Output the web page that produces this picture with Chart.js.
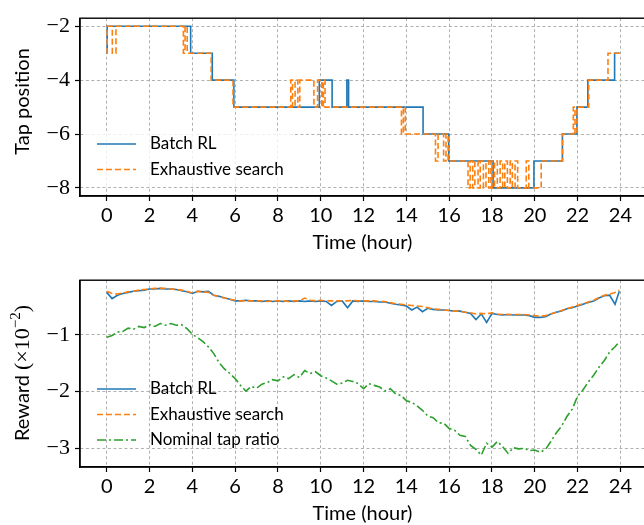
<!DOCTYPE html>
<html>
<head>
<meta charset="utf-8">
<script src="https://cdn.jsdelivr.net/npm/chart.js@4.4.0/dist/chart.umd.min.js"></script>
<style>
  html, body { margin: 0; padding: 0; background: #fff; overflow: hidden; }
  #wrap { position: relative; width: 644px; height: 525px; overflow: hidden; }
  .panel { position: absolute; left: 0; width: 660px; }
  #top-panel { top: 0; height: 262px; }
  #bottom-panel { top: 262px; height: 270px; }
</style>
</head>
<body>
<div id="wrap">
  <div class="panel" id="top-panel"><canvas id="tap-chart"></canvas></div>
  <div class="panel" id="bottom-panel"><canvas id="reward-chart"></canvas></div>
</div>
<script>
// tick labels
const HOUR_TICKS = [0, 2, 4, 6, 8, 10, 12, 14, 16, 18, 20, 22, 24];
const TAP_TICKS = [-8, -6, -4, -2];
const REWARD_TICKS = [-3, -2, -1];

// tap position, (hour at which the tap changes, new tap)
const RL_TAP_TIME = [0, 0.02, 3.92, 4.93, 5.94, 9.93, 10.53, 11.22, 11.3, 14.78, 15.98, 18.05,
    19.96, 21.29, 21.97, 22.48, 23.73, 23.96];
const RL_TAP = [-3, -2, -3, -4, -5, -4, -5, -4, -5, -6, -7, -8,
    -7, -6, -5, -4, -3, -3];

const ES_TAP_TIME = [0, 0.02, 0.26, 0.43, 3.58, 3.66, 3.76, 4.88, 5.9,
    8.6, 8.68, 8.8, 8.93, 9.02, 9.68, 9.85, 10.05, 10.12, 10.2,
    13.77, 13.86, 13.95, 15.36, 15.48, 15.74, 15.85, 15.95,
    16.88, 16.98, 17.1, 17.2, 17.35, 17.45, 17.6, 17.72, 17.85, 17.95,
    18.0, 18.12, 18.25, 18.38, 18.5, 18.6, 18.72, 18.85, 18.95, 19.08, 19.2,
    19.6, 19.72, 20.3, 21.3, 21.8, 21.88, 21.97, 22.52, 23.42, 23.96];
const ES_TAP = [-3, -2, -3, -2, -3, -2, -3, -4, -5,
    -4, -5, -4, -5, -4, -5, -4, -5, -4, -5,
    -6, -5, -6, -7, -6, -7, -6, -7,
    -8, -7, -8, -7, -8, -7, -8, -7, -8, -7,
    -8, -7, -8, -7, -8, -7, -8, -7, -8, -7, -8,
    -7, -8, -7, -6, -5, -6, -5, -4, -3, -3];

// reward (x 1e-2)
const REWARD_TIME = [0, 0.25, 0.5, 0.75, 1, 1.25, 1.5, 1.75, 2, 2.25, 2.5, 2.75,
    3, 3.25, 3.5, 3.75, 4, 4.25, 4.5, 4.75, 5, 5.25, 5.5, 5.75,
    6, 6.25, 6.5, 6.75, 7, 7.25, 7.5, 7.75, 8, 8.25, 8.5, 8.75,
    9, 9.25, 9.5, 9.75, 10, 10.25, 10.5, 10.75, 11, 11.25, 11.5, 11.75,
    12, 12.25, 12.5, 12.75, 13, 13.25, 13.5, 13.75, 14, 14.25, 14.5, 14.75,
    15, 15.25, 15.5, 15.75, 16, 16.25, 16.5, 16.75, 17, 17.25, 17.5, 17.75,
    18, 18.25, 18.5, 18.75, 19, 19.25, 19.5, 19.75, 20, 20.25, 20.5, 20.75,
    21, 21.25, 21.5, 21.75, 22, 22.25, 22.5, 22.75, 23, 23.25, 23.5, 23.75, 23.95];
const RL_REWARD = [-0.25, -0.36, -0.30, -0.27, -0.25, -0.23, -0.22, -0.21, -0.19, -0.19, -0.18, -0.19,
    -0.19, -0.20, -0.22, -0.24, -0.27, -0.23, -0.24, -0.23, -0.30, -0.32, -0.35, -0.37,
    -0.40, -0.40, -0.39, -0.40, -0.40, -0.41, -0.40, -0.41, -0.40, -0.41, -0.40, -0.41,
    -0.40, -0.41, -0.40, -0.41, -0.40, -0.41, -0.48, -0.41, -0.40, -0.52, -0.40, -0.41,
    -0.40, -0.41, -0.41, -0.42, -0.42, -0.44, -0.46, -0.47, -0.49, -0.56, -0.51, -0.59,
    -0.53, -0.55, -0.56, -0.56, -0.57, -0.58, -0.58, -0.60, -0.62, -0.73, -0.63, -0.78,
    -0.62, -0.64, -0.65, -0.64, -0.65, -0.65, -0.65, -0.66, -0.69, -0.69, -0.68, -0.63,
    -0.60, -0.58, -0.54, -0.52, -0.49, -0.46, -0.43, -0.40, -0.35, -0.31, -0.30, -0.46, -0.23];
const ES_REWARD = [-0.23, -0.27, -0.28, -0.26, -0.24, -0.23, -0.21, -0.20, -0.19, -0.18, -0.18, -0.18,
    -0.19, -0.20, -0.21, -0.23, -0.26, -0.23, -0.24, -0.25, -0.30, -0.32, -0.35, -0.37,
    -0.39, -0.40, -0.40, -0.40, -0.40, -0.40, -0.41, -0.40, -0.40, -0.40, -0.41, -0.40,
    -0.40, -0.35, -0.39, -0.40, -0.39, -0.40, -0.40, -0.40, -0.40, -0.40, -0.39, -0.40,
    -0.40, -0.40, -0.40, -0.41, -0.41, -0.43, -0.45, -0.46, -0.47, -0.48, -0.49, -0.50,
    -0.52, -0.54, -0.55, -0.56, -0.57, -0.58, -0.58, -0.60, -0.61, -0.63, -0.62, -0.63,
    -0.61, -0.63, -0.64, -0.64, -0.64, -0.64, -0.64, -0.65, -0.66, -0.67, -0.66, -0.63,
    -0.60, -0.57, -0.54, -0.51, -0.48, -0.45, -0.42, -0.39, -0.34, -0.30, -0.28, -0.25, -0.21];
const NOMINAL_REWARD = [-1.04, -1.01, -0.95, -0.94, -0.88, -0.90, -0.85, -0.87, -0.82, -0.85, -0.80, -0.83,
    -0.80, -0.83, -0.82, -0.89, -0.99, -1.05, -1.12, -1.21, -1.33, -1.49, -1.60, -1.68,
    -1.77, -1.89, -1.99, -1.91, -1.94, -1.87, -1.84, -1.79, -1.81, -1.74, -1.77, -1.70,
    -1.75, -1.63, -1.68, -1.65, -1.72, -1.76, -1.81, -1.87, -1.85, -1.80, -1.82, -1.86,
    -1.95, -1.86, -1.89, -1.92, -1.99, -1.95, -2.04, -2.07, -2.16, -2.19, -2.25, -2.33,
    -2.43, -2.46, -2.55, -2.56, -2.65, -2.68, -2.77, -2.79, -2.95, -3.02, -3.12, -2.91,
    -2.98, -2.88, -2.97, -3.09, -2.99, -3.01, -3.00, -3.04, -3.03, -3.07, -3.02, -2.88,
    -2.73, -2.61, -2.44, -2.31, -2.08, -1.97, -1.83, -1.71, -1.57, -1.45, -1.30, -1.21, -1.12];

const COLORS = { rl: '#1f77b4', es: '#ff7f0e', nominal: '#2ca02c' };
const FONT_SANS = "Lato, 'Open Sans', sans-serif";
const FONT_SERIF = "'Liberation Serif', 'DejaVu Serif', serif";
const GRID_COLOR = '#b0b0b0';

function pairs(xs, ys) {
    return xs.map((x, i) => ({ x: x, y: ys[i] }));
}

function minusLabel(v) {
    return v < 0 ? '\u2212' + Math.abs(v) : String(v);
}

function gridOpts() {
    return {
        color: GRID_COLOR,
        lineWidth: 1,
        tickColor: '#000',
        tickLength: 5,
        tickWidth: 1.2,
        tickBorderDash: []
    };
}

function hourAxis(height, titlePad) {
    return {
        type: 'linear',
        min: -1.25,
        max: 25.15,
        afterFit: s => { s.height = height; },
        afterBuildTicks: s => { s.ticks = HOUR_TICKS.map(v => ({ value: v })); },
        grid: gridOpts(),
        border: { display: true, color: '#000', width: 1.4, dash: [3, 2.5] },
        ticks: {
            color: '#000',
            autoSkip: false,
            maxRotation: 0,
            padding: 3,
            font: { family: FONT_SANS, size: 20 },
            callback: v => String(v)
        },
        title: {
            display: true,
            text: 'Time (hour)',
            color: '#000',
            font: { family: FONT_SANS, size: 20 },
            padding: { top: 0, bottom: titlePad }
        }
    };
}

function valueAxis(min, max, ticks) {
    return {
        min: min,
        max: max,
        afterFit: s => { s.width = 80; },
        afterBuildTicks: s => { s.ticks = ticks.map(v => ({ value: v })); },
        grid: gridOpts(),
        border: { display: true, color: '#000', width: 1.4, dash: [3, 2.5] },
        ticks: {
            color: '#000',
            padding: 5,
            font: { family: FONT_SERIF, size: 22 },
            callback: v => minusLabel(v)
        }
    };
}

// top/right spines, legend and the rotated y title
const framePlugin = {
    id: 'frameLegend',
    afterDatasetsDraw(chart, args, opts) {
        const ctx = chart.ctx;
        const a = chart.chartArea;
        ctx.save();
        ctx.strokeStyle = '#000';
        ctx.lineWidth = 1.4;
        ctx.strokeRect(a.left, a.top, a.right - a.left, a.bottom - a.top);

        const L = opts.legend;
        if (L.fill) {
            ctx.fillStyle = L.fill;
            ctx.fillRect(L.x, L.y, L.w, L.h);
        }
        chart.data.datasets.forEach((ds, i) => {
            const y = L.firstRow + i * L.rowGap;
            ctx.strokeStyle = ds.borderColor;
            ctx.lineWidth = ds.borderWidth;
            ctx.setLineDash(ds.borderDash || []);
            ctx.beginPath();
            ctx.moveTo(97, y);
            ctx.lineTo(136, y);
            ctx.stroke();
            ctx.setLineDash([]);
            ctx.fillStyle = '#000';
            ctx.font = '17px ' + FONT_SANS;
            ctx.textBaseline = 'middle';
            ctx.textAlign = 'left';
            ctx.fillText(ds.label, 150, y);
        });

        // y title pieces, drawn rotated
        const t = opts.yTitle;
        ctx.translate(t.x, t.y);
        ctx.rotate(-Math.PI / 2);
        ctx.textBaseline = 'alphabetic';
        let total = 0;
        t.parts.forEach(p => { ctx.font = p.font; total += ctx.measureText(p.text).width; });
        let x = -total / 2;
        t.parts.forEach(p => {
            ctx.font = p.font;
            ctx.fillText(p.text, x, -(p.rise || 0));
            x += ctx.measureText(p.text).width;
        });
        ctx.restore();
    }
};

const tapChart = new Chart(document.getElementById('tap-chart'), {
    type: 'line',
    data: {
        datasets: [
            {
                label: 'Batch RL',
                data: pairs(RL_TAP_TIME, RL_TAP),
                borderColor: COLORS.rl,
                borderWidth: 1.6,
                stepped: true,
                order: 1
            },
            {
                label: 'Exhaustive search',
                data: pairs(ES_TAP_TIME, ES_TAP),
                borderColor: COLORS.es,
                borderWidth: 1.6,
                borderDash: [6, 3],
                stepped: true,
                order: 0
            }
        ]
    },
    options: {
        responsive: true,
        maintainAspectRatio: false,
        animation: false,
        parsing: false,
        layout: { padding: { top: 7, right: 15, bottom: 0, left: 0 } },
        elements: { point: { radius: 0 }, line: { tension: 0 } },
        plugins: {
            legend: { display: false },
            tooltip: { enabled: false },
            frameLegend: {
                legend: { x: 86, y: 131, w: 206, h: 55, firstRow: 144, rowGap: 25.5, fill: 'rgba(255,255,255,0.8)' },
                yTitle: {
                    x: 29, y: 101.5,
                    parts: [{ text: 'Tap position', font: '20px ' + FONT_SANS }]
                }
            }
        },
        scales: {
            x: hourAxis(66, 7),
            y: valueAxis(-8.3, -1.7, TAP_TICKS)
        }
    },
    plugins: [framePlugin]
});

const rewardChart = new Chart(document.getElementById('reward-chart'), {
    type: 'line',
    data: {
        datasets: [
            {
                label: 'Batch RL',
                data: pairs(REWARD_TIME, RL_REWARD),
                borderColor: COLORS.rl,
                borderWidth: 1.6,
                order: 2
            },
            {
                label: 'Exhaustive search',
                data: pairs(REWARD_TIME, ES_REWARD),
                borderColor: COLORS.es,
                borderWidth: 1.6,
                borderDash: [6, 3],
                order: 1
            },
            {
                label: 'Nominal tap ratio',
                data: pairs(REWARD_TIME, NOMINAL_REWARD),
                borderColor: COLORS.nominal,
                borderWidth: 1.6,
                borderDash: [9, 3, 2, 3],
                order: 0
            }
        ]
    },
    options: {
        responsive: true,
        maintainAspectRatio: false,
        animation: false,
        parsing: false,
        layout: { padding: { top: 17.3, right: 15, bottom: 0, left: 0 } },
        elements: { point: { radius: 0 }, line: { tension: 0 } },
        plugins: {
            legend: { display: false },
            tooltip: { enabled: false },
            frameLegend: {
                legend: { x: 86, y: 113, w: 206, h: 80, firstRow: 127, rowGap: 25.5, fill: null },
                yTitle: {
                    x: 29, y: 111,
                    parts: [
                        { text: 'Reward ', font: '20px ' + FONT_SANS },
                        { text: '(\u00d710', font: '22px ' + FONT_SERIF },
                        { text: '\u22122', font: '15px ' + FONT_SERIF, rise: 9 },
                        { text: ')', font: '22px ' + FONT_SERIF }
                    ]
                }
            }
        },
        scales: {
            x: hourAxis(65, 6),
            y: valueAxis(-3.33, -0.035, REWARD_TICKS)
        }
    },
    plugins: [framePlugin]
});
</script>
</body>
</html>
